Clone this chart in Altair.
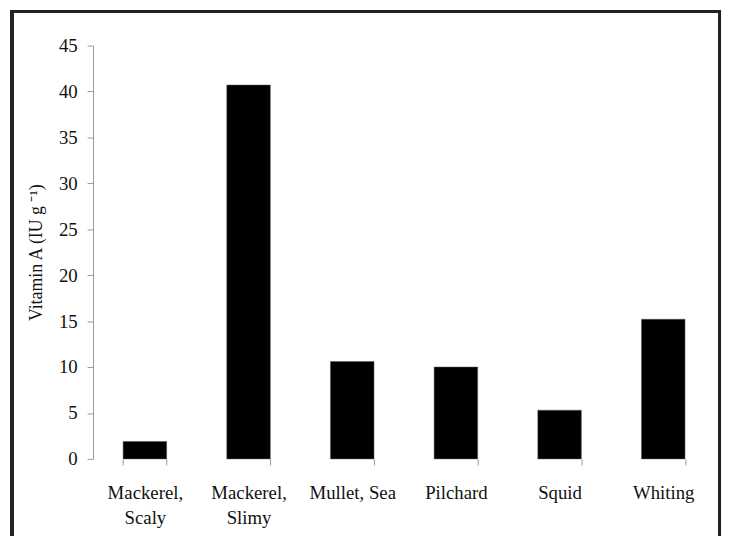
import altair as alt
import pandas as pd

categories = ["Mackerel, Scaly", "Mackerel, Slimy", "Mullet, Sea", "Pilchard", "Squid", "Whiting"]
values = [1.9, 40.7, 10.6, 10.0, 5.3, 15.2]
y_ticks = [0, 5, 10, 15, 20, 25, 30, 35, 40, 45]

df = pd.DataFrame({"fish": categories, "vitA": values})

FONT = "Liberation Serif"

label_expr = ("datum.value == 'Mackerel, Scaly' ? ['Mackerel,', 'Scaly'] : "
              "datum.value == 'Mackerel, Slimy' ? ['Mackerel,', 'Slimy'] : datum.value")

bars = alt.Chart(df).mark_bar(color="black", stroke="#555", strokeWidth=0.5).encode(
    x=alt.X("fish:N", sort=categories,
            scale=alt.Scale(paddingInner=0.58, paddingOuter=0.29),
            axis=alt.Axis(title=None, labelAngle=0, domain=False, tickBand="extent",
                          tickColor="#999", tickSize=6, labelPadding=19,
                          labelFont=FONT, labelFontSize=19, labelColor="#111",
                          labelLineHeight=25, labelExpr=label_expr)),
    y=alt.Y("vitA:Q", scale=alt.Scale(domain=[0, 45], nice=False),
            axis=alt.Axis(title="Vitamin A (IU g \u207b\u00b9)", values=y_ticks, grid=False,
                          domainColor="#999", tickColor="#999", tickSize=6,
                          labelFont=FONT, labelFontSize=19, labelColor="#111", labelPadding=10,
                          titleFont=FONT, titleFontSize=18, titleFontWeight="normal",
                          titleColor="#111", titlePadding=13)),
)

frame = alt.Chart(df).mark_rect(fill=None, stroke="#222", strokeWidth=3, clip=False).encode(
    x=alt.value(-82), x2=alt.value(633.5), y=alt.value(-34.5), y2=alt.value(515)
)

chart = alt.layer(bars, frame).properties(
    width=629, height=418,
    autosize=alt.AutoSizeParams(type="none"),
    padding={"left": 86, "top": 35, "right": 7, "bottom": 75},
    background="white",
).configure_view(stroke=None)

chart.save("out.html", embed_options={"renderer": "svg", "actions": False})
